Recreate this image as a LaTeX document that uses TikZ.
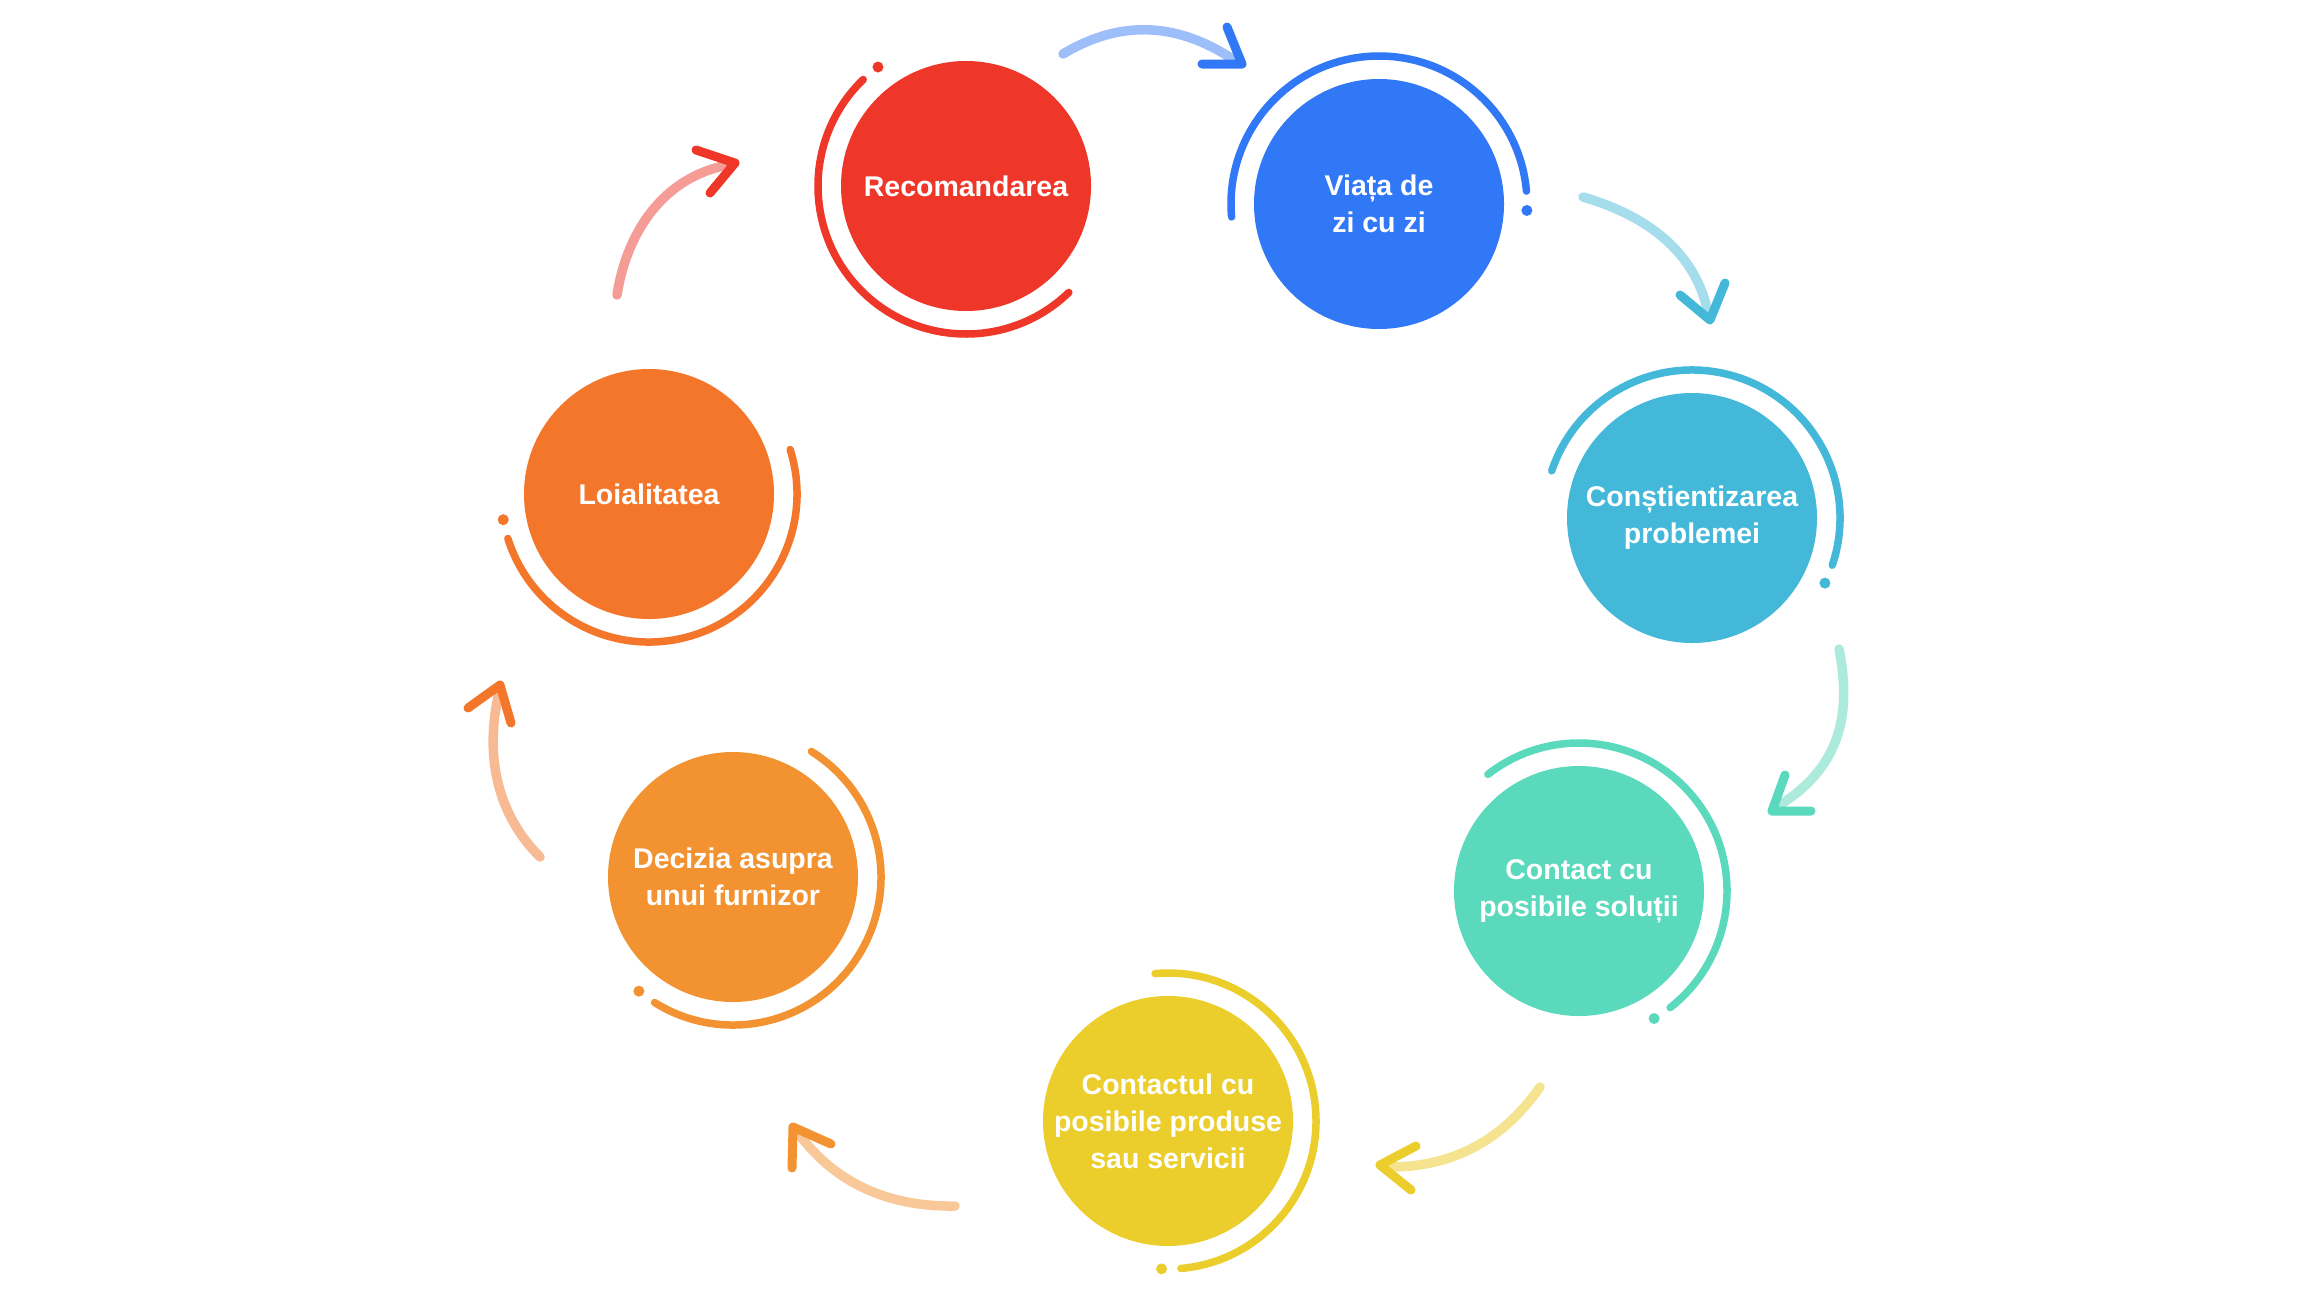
\documentclass[tikz,border=0pt]{standalone}
\usepackage{fontspec}
\setmainfont{Liberation Sans}
\definecolor{cRed}{HTML}{EE3729}
\definecolor{cRedL}{HTML}{F49C95}
\definecolor{cBlue}{HTML}{3078F5}
\definecolor{cBlueL}{HTML}{9DBEF9}
\definecolor{cCyan}{HTML}{43B8D8}
\definecolor{cCyanL}{HTML}{A5DDEC}
\definecolor{cTeal}{HTML}{5BD9BD}
\definecolor{cTealL}{HTML}{ACEBDC}
\definecolor{cYel}{HTML}{EBCE2B}
\definecolor{cYelL}{HTML}{F6E38F}
\definecolor{cOra}{HTML}{F39230}
\definecolor{cOraL}{HTML}{F8C898}
\definecolor{cLoy}{HTML}{F4762A}
\definecolor{cLoyL}{HTML}{F7BA93}
\newcommand\ringdeco[3]{%
  \pgfmathsetmacro\ringA{#2}%
  \pgfmathsetmacro\ringB{#2+180}%
  \pgfmathsetmacro\ringD{#2-7.5}%
  \draw[ringline,#3] ([shift={(\ringA:148)}]#1.center) arc[start angle=\ringA, end angle=\ringB, radius=148];
  \fill[#3] ([shift={(\ringD:148)}]#1.center) circle[radius=5.5];}
\begin{document}
\begin{tikzpicture}[x=1pt,y=1pt,
  stage/.style={circle, minimum size=250pt, inner sep=0pt, text=white, align=center,
    font=\fontsize{28.5}{37}\selectfont\bfseries},
  ringline/.style={line width=7.5pt, line cap=round},
  shaft/.style={line width=9.5pt, line cap=round},
  head/.style={line width=9pt, line cap=round, line join=round}]
\fill[white] (0,0) rectangle (2312,-1296);
\useasboundingbox (0,0) rectangle (2312,-1296);

% stages
\node[stage, fill=cRed]  (rec) at (966,-186)  {Recomandarea};
\node[stage, fill=cBlue] (via) at (1379,-204) {Viața de\\zi cu zi};
\node[stage, fill=cCyan] (con) at (1692,-518) {Conștientizarea\\problemei};
\node[stage, fill=cTeal] (sol) at (1579,-891) {Contact cu\\posibile soluții};
\node[stage, fill=cYel]  (pro) at (1168,-1121) {Contactul cu\\posibile produse\\sau servicii};
\node[stage, fill=cOra]  (dec) at (733,-877)  {Decizia asupra\\unui furnizor};
\node[stage, fill=cLoy]  (loy) at (649,-494)  {Loialitatea};

% rings
\ringdeco{rec}{134}{cRed}
\ringdeco{via}{5}{cBlue}
\ringdeco{con}{-18.6}{cCyan}
\ringdeco{sol}{-52}{cTeal}
\ringdeco{pro}{-85}{cYel}
\ringdeco{dec}{-122}{cOra}
\ringdeco{loy}{-162.5}{cLoy}

% arrow coordinates
\coordinate (a1s) at (1063,-54);  \coordinate (a1e) at (1237,-62);  \coordinate (a1t) at (1242,-64);
\coordinate (a2s) at (1583,-197); \coordinate (a2e) at (1708,-313); \coordinate (a2t) at (1710,-320);
\coordinate (a3s) at (1839,-649); \coordinate (a3e) at (1778,-806); \coordinate (a3t) at (1772,-811);
\coordinate (a4s) at (1540,-1087);\coordinate (a4e) at (1390,-1167);\coordinate (a4t) at (1380,-1165);
\coordinate (a5s) at (955,-1206); \coordinate (a5e) at (798,-1133); \coordinate (a5t) at (793,-1127);
\coordinate (a6s) at (540,-857);  \coordinate (a6e) at (499,-692);  \coordinate (a6t) at (500,-685);
\coordinate (a7s) at (617,-295);  \coordinate (a7e) at (728,-165);  \coordinate (a7t) at (735,-163);

% arrows: shafts
\draw[shaft, cBlueL] (a1s) .. controls (1121,-19) and (1179,-22) .. (a1e);
\draw[shaft, cCyanL] (a2s) .. controls (1655,-218) and (1697,-258) .. (a2e);
\draw[shaft, cTealL] (a3s) .. controls (1852,-715) and (1840,-768) .. (a3e);
\draw[shaft, cYelL]  (a4s) .. controls (1503,-1140) and (1453,-1167) .. (a4e);
\draw[shaft, cOraL]  (a5s) .. controls (888,-1207) and (835,-1183) .. (a5e);
\draw[shaft, cLoyL]  (a6s) .. controls (498,-815) and (484,-758) .. (a6e);
\draw[shaft, cRedL]  (a7s) .. controls (627,-231) and (664,-177) .. (a7e);

% arrow heads
\draw[head, cBlue] ([shift={(-15,37)}]a1t) -- (a1t) -- ([shift={(-40,0)}]a1t);
\draw[head, cCyan] ([shift={(-30,25)}]a2t) -- (a2t) -- ([shift={(15,37)}]a2t);
\draw[head, cTeal] ([shift={(13,36)}]a3t) -- (a3t) -- ([shift={(39,0)}]a3t);
\draw[head, cYel]  ([shift={(36,19)}]a4t) -- (a4t) -- ([shift={(31,-25)}]a4t);
\draw[head, cOra]  ([shift={(38,-17)}]a5t) -- (a5t) -- ([shift={(-1,-41)}]a5t);
\draw[head, cLoy]  ([shift={(-32,-23)}]a6t) -- (a6t) -- ([shift={(11,-38)}]a6t);
\draw[head, cRed]  ([shift={(-39,13)}]a7t) -- (a7t) -- ([shift={(-25,-30)}]a7t);
\end{tikzpicture}
\end{document}
